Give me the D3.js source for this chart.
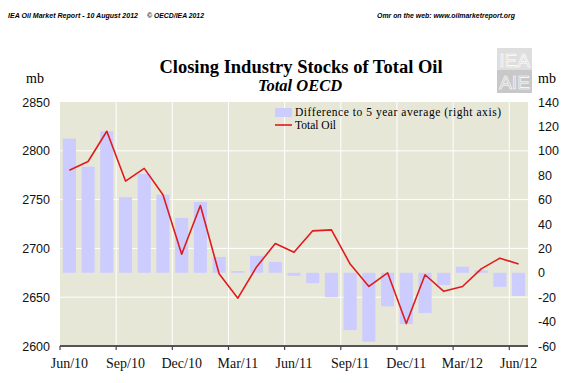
<!DOCTYPE html>
<html lang="en">
<head>
    <meta charset="UTF-8">
    <title>Closing Industry Stocks of Total Oil</title>
    <script src="https://d3js.org/d3.v7.min.js"></script>
    <style>
        body { margin: 0; background: #fff; }
        svg { display: block; }
        .serif { font-family: "Liberation Serif", "Times New Roman", serif; }
        .sans { font-family: "Liberation Sans", Arial, sans-serif; }
    </style>
</head>
<body>
    <svg id="chart" width="580" height="383"></svg>

    <script>
        const months = ["Jun/10", "Jul/10", "Aug/10", "Sep/10", "Oct/10", "Nov/10", "Dec/10",
            "Jan/11", "Feb/11", "Mar/11", "Apr/11", "May/11", "Jun/11", "Jul/11", "Aug/11",
            "Sep/11", "Oct/11", "Nov/11", "Dec/11", "Jan/12", "Feb/12", "Mar/12", "Apr/12",
            "May/12", "Jun/12"];
        // difference to 5 year average, mb (right axis)
        const diff5yr = [110, 87, 116, 62, 81, 64, 45, 58, 13, 1.5, 14, 9, -2.5, -8.5, -20,
            -47, -56.5, -27.5, -42, -33, -10, 5, 2, -11.5, -19];
        // total oil stocks, mb (left axis)
        const totalOil = [2780, 2789, 2820, 2769, 2782, 2755, 2694, 2744, 2674, 2649, 2681, 2705,
            2696, 2718, 2719, 2684, 2661, 2675, 2623, 2673, 2656, 2661, 2679, 2690, 2684];
        const leftTicks = [2600, 2650, 2700, 2750, 2800, 2850];
        const rightTicks = [-60, -40, -20, 0, 20, 40, 60, 80, 100, 120, 140];
        const xTicks = ["Jun/10", "Sep/10", "Dec/10", "Mar/11", "Jun/11", "Sep/11", "Dec/11", "Mar/12", "Jun/12"];

        const svg = d3.select("#chart");
        const plotL = 60, plotR = 528, plotT = 102, plotB = 346;

        const x = d3.scaleBand().domain(months).range([plotL, plotR])
            .paddingInner(0.3).paddingOuter(0.15);
        const yL = d3.scaleLinear().domain([2600, 2850]).range([plotB, plotT]);
        const yR = d3.scaleLinear().domain([-60, 140]).range([plotB, plotT]);

        // header line (squeezed to the widths seen in the report)
        function header(txt, xPos, len) {
            svg.append("text").attr("class", "sans").attr("x", xPos).attr("y", 18)
                .attr("font-size", 7.6).attr("font-weight", "bold").attr("font-style", "italic")
                .attr("textLength", len).attr("lengthAdjust", "spacingAndGlyphs")
                .text(txt);
        }
        header("IEA Oil Market Report - 10 August 2012", 8, 130);
        header("\u00A9 OECD/IEA 2012", 147, 57);
        header("Omr on the web: www.oilmarketreport.org", 377, 138);

        // logo
        const logo = svg.append("g").attr("transform", "translate(497,48)");
        logo.append("rect").attr("width", 35).attr("height", 22).attr("fill", "#dedede");
        logo.append("rect").attr("y", 22).attr("width", 35).attr("height", 23).attr("fill", "#c8c8c8");
        logo.append("text").attr("class", "sans").attr("x", 17.5).attr("y", 19)
            .attr("text-anchor", "middle").attr("font-size", 19).attr("fill", "none")
            .attr("stroke", "#fff").attr("stroke-width", 0.6).text("IEA");
        logo.append("text").attr("class", "sans").attr("x", 17.5).attr("y", 41)
            .attr("text-anchor", "middle").attr("font-size", 19).attr("fill", "none")
            .attr("stroke", "#fff").attr("stroke-width", 0.6).text("AIE");

        // titles
        svg.append("text").attr("class", "serif").attr("x", 301).attr("y", 73)
            .attr("text-anchor", "middle").attr("font-size", 18.5).attr("font-weight", "bold")
            .text("Closing Industry Stocks of Total Oil");
        svg.append("text").attr("class", "serif").attr("x", 300).attr("y", 91)
            .attr("text-anchor", "middle").attr("font-size", 16.5).attr("font-weight", "bold")
            .attr("font-style", "italic").text("Total OECD");
        svg.append("text").attr("class", "serif").attr("x", 26).attr("y", 83)
            .attr("font-size", 14).text("mb");
        svg.append("text").attr("class", "serif").attr("x", 538).attr("y", 83)
            .attr("font-size", 14).text("mb");

        // plot background and grid
        svg.append("rect").attr("x", plotL).attr("y", plotT)
            .attr("width", plotR - plotL).attr("height", plotB - plotT).attr("fill", "#e7e7d8");
        svg.append("g").selectAll("line").data(leftTicks.slice(1, -1)).join("line")
            .attr("x1", plotL).attr("x2", plotR)
            .attr("y1", d => yL(d)).attr("y2", d => yL(d))
            .attr("stroke", "#fff").attr("stroke-width", 1);
        svg.append("g").selectAll("line").data(xTicks.slice(1)).join("line")
            .attr("x1", d => x(d) - x.step() * 0.15).attr("x2", d => x(d) - x.step() * 0.15)
            .attr("y1", plotT).attr("y2", plotB)
            .attr("stroke", "#fff").attr("stroke-width", 1);

        // bars
        svg.append("g").selectAll("rect").data(months).join("rect")
            .attr("x", d => x(d))
            .attr("width", x.bandwidth())
            .attr("y", (d, i) => yR(Math.max(0, diff5yr[i])))
            .attr("height", (d, i) => Math.abs(yR(diff5yr[i]) - yR(0)))
            .attr("fill", "#ccccff");

        // line
        const line = d3.line()
            .x((d, i) => x(months[i]) + x.bandwidth() / 2)
            .y(d => yL(d));
        svg.append("path").datum(totalOil)
            .attr("d", line)
            .attr("fill", "none")
            .attr("stroke", "#e01b1b")
            .attr("stroke-width", 1.6)
            .attr("stroke-linejoin", "round");

        // bottom axis
        const xAxis = svg.append("g")
            .attr("transform", `translate(0,${plotB})`)
            .call(d3.axisBottom(x).tickValues(xTicks).tickSize(4).tickPadding(8));
        xAxis.select(".domain").attr("stroke", "#555").attr("stroke-width", 2)
            .attr("d", `M${plotL},0H${plotR}`);
        xAxis.selectAll(".tick line").attr("stroke", "#444").attr("stroke-width", 1.2)
            .attr("x1", -x.step() / 2).attr("x2", -x.step() / 2);
        xAxis.selectAll(".tick text").attr("class", "serif").attr("font-size", 14)
            .attr("fill", "#111");

        // left axis
        const yAxisL = svg.append("g")
            .attr("transform", `translate(${plotL},0)`)
            .call(d3.axisLeft(yL).tickValues(leftTicks).tickSize(0).tickPadding(10)
                .tickFormat(d => String(d)));
        yAxisL.select(".domain").remove();
        yAxisL.selectAll(".tick text").attr("class", "sans").attr("font-size", 12.5)
            .attr("fill", "#111");

        // right axis
        const yAxisR = svg.append("g")
            .attr("transform", `translate(${plotR},0)`)
            .call(d3.axisRight(yR).tickValues(rightTicks).tickSize(0).tickPadding(10)
                .tickFormat(d => String(d)));
        yAxisR.select(".domain").remove();
        yAxisR.selectAll(".tick text").attr("class", "sans").attr("font-size", 12.5)
            .attr("fill", "#111");

        // legend
        const legend = svg.append("g").attr("transform", "translate(275,108)");
        legend.append("rect").attr("width", 17).attr("height", 9).attr("fill", "#ccccff");
        legend.append("text").attr("class", "serif").attr("x", 20).attr("y", 8)
            .attr("font-size", 11.5).attr("textLength", 206).attr("lengthAdjust", "spacing")
            .text("Difference to 5 year average (right axis)");
        legend.append("line").attr("x1", 0).attr("x2", 17).attr("y1", 17).attr("y2", 17)
            .attr("stroke", "#e01b1b").attr("stroke-width", 1.6);
        legend.append("text").attr("class", "serif").attr("x", 20).attr("y", 21)
            .attr("font-size", 11.5).text("Total Oil");
    </script>
</body>
</html>
